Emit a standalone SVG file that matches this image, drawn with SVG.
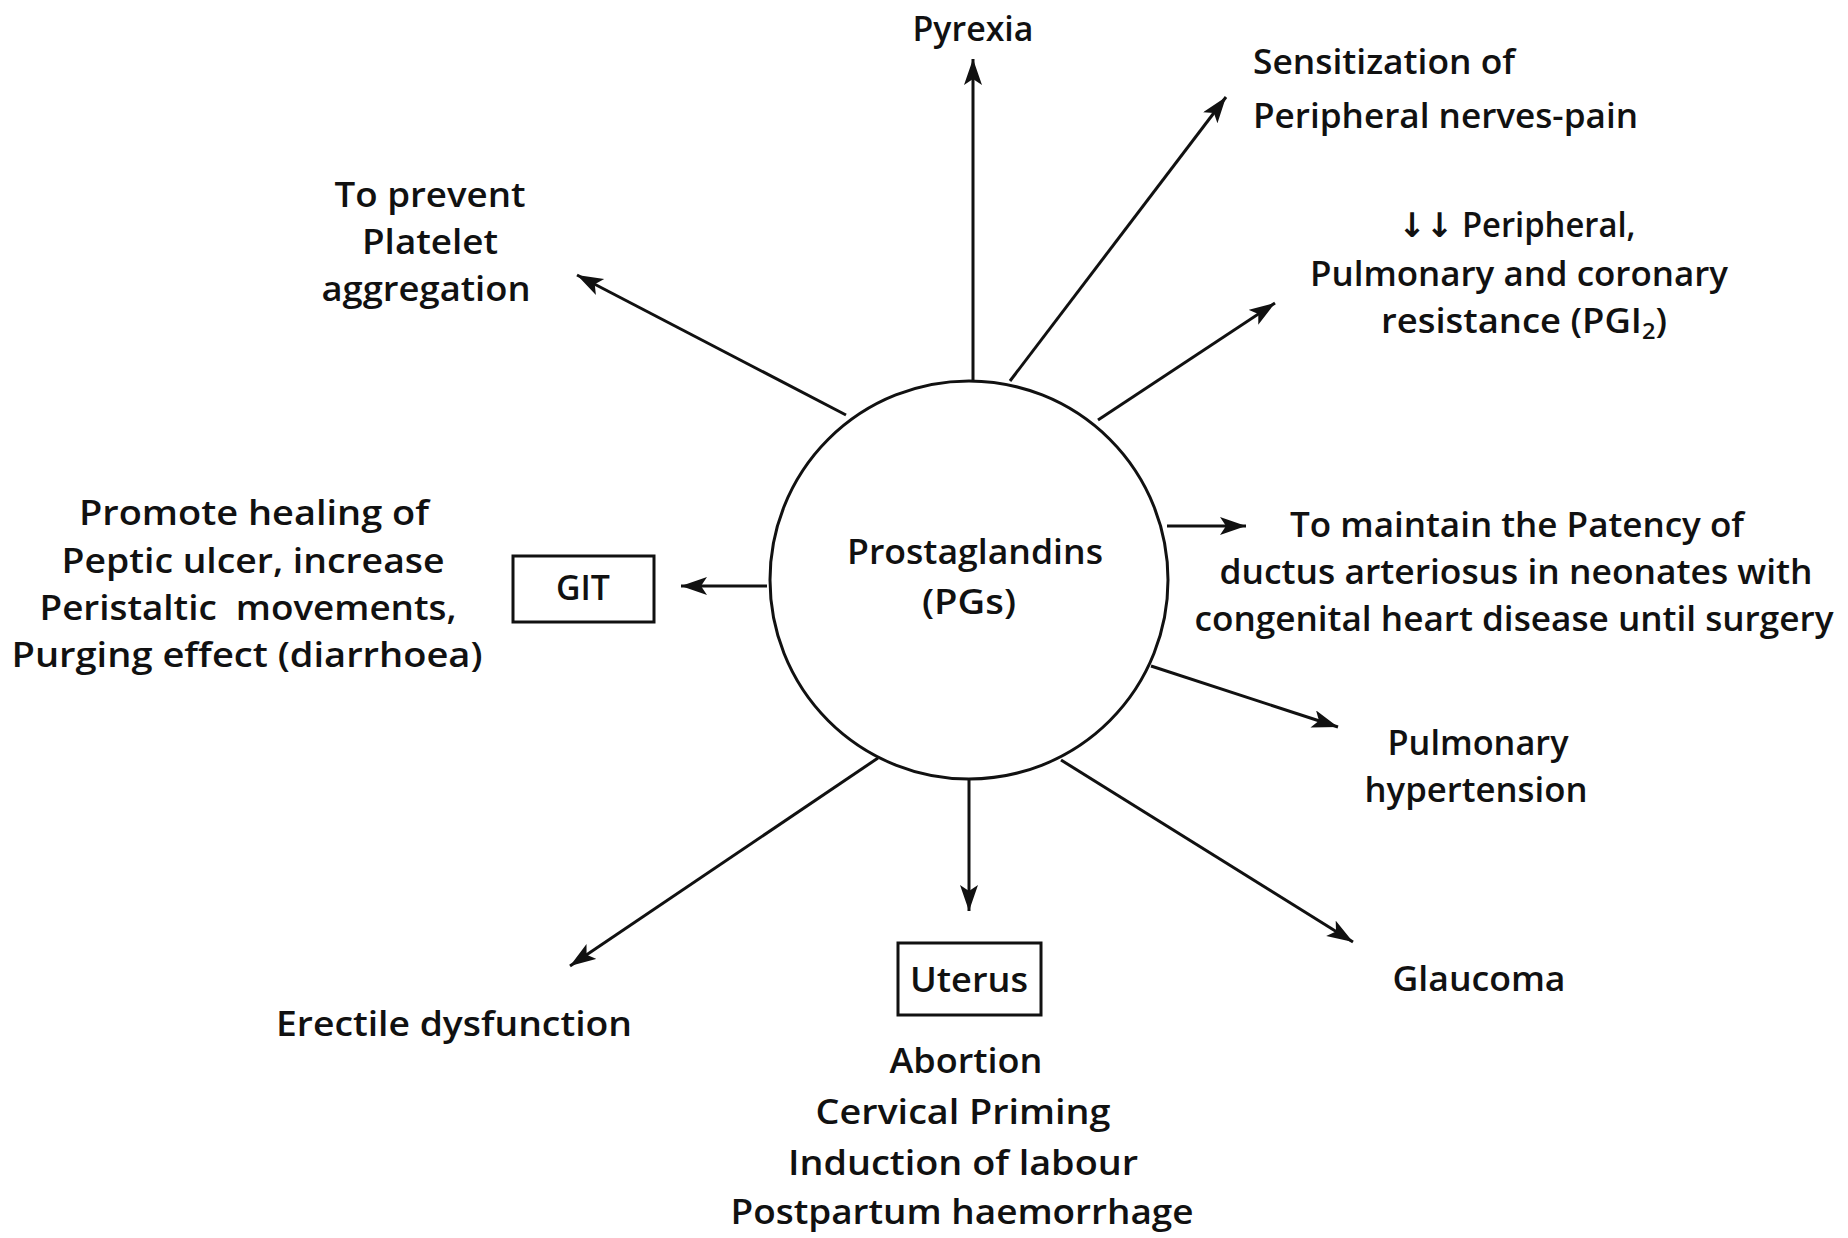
<svg xmlns="http://www.w3.org/2000/svg" width="1848" height="1238" viewBox="0 0 1848 1238">
<style>
text{font-family:"Open Sans","Liberation Sans",sans-serif;font-size:34px;font-weight:600;fill:#111;text-anchor:middle}
.l{text-anchor:start}
.edge{stroke:#111;stroke-width:3;fill:none;marker-end:url(#ah)}
.box{fill:none;stroke:#111;stroke-width:3}
.dn{font-family:"DejaVu Sans",sans-serif;font-weight:bold}
</style>
<defs>
<marker id="ah" markerUnits="userSpaceOnUse" markerWidth="28" markerHeight="20" refX="26" refY="9" orient="auto">
<path d="M0,0 L26,9 L0,18 L6,9 z" fill="#111"/>
</marker>
</defs>
<rect width="1848" height="1238" fill="#fff"/>
<g id="connectors">
<line class="edge" x1="973" y1="381" x2="973" y2="59"/>
<line class="edge" x1="1010" y1="381" x2="1226" y2="97"/>
<line class="edge" x1="1098" y1="420" x2="1275" y2="303"/>
<line class="edge" x1="1167" y1="526" x2="1246" y2="526"/>
<line class="edge" x1="1151" y1="666" x2="1338" y2="727"/>
<line class="edge" x1="1061" y1="760" x2="1353" y2="942"/>
<line class="edge" x1="969" y1="779" x2="969" y2="911"/>
<line class="edge" x1="878" y1="758" x2="570" y2="966"/>
<line class="edge" x1="767" y1="586" x2="681" y2="586"/>
<line class="edge" x1="846" y1="415" x2="577" y2="275"/>
</g>
<g id="center">
<circle cx="969" cy="580" r="199" fill="none" stroke="#111" stroke-width="3"/>
<text x="975" y="564" textLength="256" lengthAdjust="spacingAndGlyphs">Prostaglandins</text>
<text x="969" y="614" textLength="94" lengthAdjust="spacingAndGlyphs">(PGs)</text>
</g>
<g id="pyrexia">
<text x="973" y="41" textLength="121" lengthAdjust="spacingAndGlyphs">Pyrexia</text>
</g>
<g id="sensitization">
<text class="l" x="1253" y="74" textLength="262" lengthAdjust="spacingAndGlyphs">Sensitization of</text>
<text class="l" x="1253" y="128" textLength="385" lengthAdjust="spacingAndGlyphs">Peripheral nerves-pain</text>
</g>
<g id="resistance">
<text x="1517" y="237" textLength="237" lengthAdjust="spacingAndGlyphs"><tspan class="dn">↓↓</tspan> Peripheral,</text>
<text x="1519" y="286" textLength="418" lengthAdjust="spacingAndGlyphs">Pulmonary and coronary</text>
<text x="1524" y="333" textLength="286" lengthAdjust="spacingAndGlyphs">resistance (PGI<tspan dy="6" font-size="22">2</tspan><tspan dy="-6">)</tspan></text>
</g>
<g id="patency">
<text x="1517" y="537" textLength="454" lengthAdjust="spacingAndGlyphs">To maintain the Patency of</text>
<text x="1516" y="584" textLength="593" lengthAdjust="spacingAndGlyphs">ductus arteriosus in neonates with</text>
<text x="1514" y="631" textLength="639" lengthAdjust="spacingAndGlyphs">congenital heart disease until surgery</text>
</g>
<g id="pulmonary-hypertension">
<text x="1478" y="755" textLength="181" lengthAdjust="spacingAndGlyphs">Pulmonary</text>
<text x="1476" y="802" textLength="223" lengthAdjust="spacingAndGlyphs">hypertension</text>
</g>
<g id="glaucoma">
<text x="1479" y="991" textLength="173" lengthAdjust="spacingAndGlyphs">Glaucoma</text>
</g>
<g id="uterus">
<rect class="box" x="898" y="943" width="143" height="72"/>
<text x="969" y="992" textLength="118" lengthAdjust="spacingAndGlyphs">Uterus</text>
<text x="966" y="1073" textLength="153" lengthAdjust="spacingAndGlyphs">Abortion</text>
<text x="963" y="1124" textLength="295" lengthAdjust="spacingAndGlyphs">Cervical Priming</text>
<text x="963" y="1175" textLength="350" lengthAdjust="spacingAndGlyphs">Induction of labour</text>
<text x="962" y="1224" textLength="463" lengthAdjust="spacingAndGlyphs">Postpartum haemorrhage</text>
</g>
<g id="erectile">
<text x="454" y="1036" textLength="356" lengthAdjust="spacingAndGlyphs">Erectile dysfunction</text>
</g>
<g id="git">
<rect class="box" x="513" y="556" width="141" height="66"/>
<text x="583" y="600" textLength="54" lengthAdjust="spacingAndGlyphs">GIT</text>
<text x="254" y="525" textLength="350" lengthAdjust="spacingAndGlyphs">Promote healing of</text>
<text x="253" y="573" textLength="383" lengthAdjust="spacingAndGlyphs">Peptic ulcer, increase</text>
<text x="248" y="620" textLength="417" lengthAdjust="spacingAndGlyphs">Peristaltic&#160; movements,</text>
<text x="247" y="667" textLength="471" lengthAdjust="spacingAndGlyphs">Purging effect (diarrhoea)</text>
</g>
<g id="platelet">
<text x="430" y="207" textLength="191" lengthAdjust="spacingAndGlyphs">To prevent</text>
<text x="430" y="254" textLength="136" lengthAdjust="spacingAndGlyphs">Platelet</text>
<text x="426" y="301" textLength="209" lengthAdjust="spacingAndGlyphs">aggregation</text>
</g>
</svg>
